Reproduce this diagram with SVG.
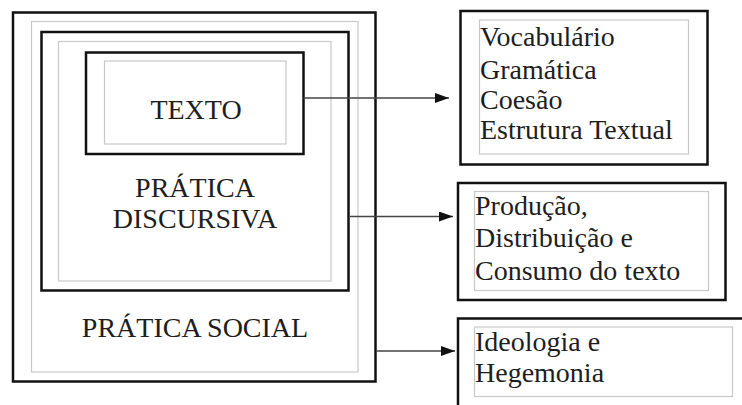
<svg xmlns="http://www.w3.org/2000/svg" width="742" height="405" viewBox="0 0 742 405">
<defs>
<style>
.thick{fill:none;stroke:#111;stroke-width:2.5}
.thin{fill:none;stroke:#c8c8c8;stroke-width:1.2}
.conn{fill:none;stroke:#444;stroke-width:1.6}
text{font-family:'Liberation Serif','DejaVu Serif',serif;font-size:28px;fill:#1e1e1e}
.c{text-anchor:middle}
</style>
<marker id="ah" viewBox="0 0 14 10" refX="14" refY="5" markerWidth="14" markerHeight="10" markerUnits="userSpaceOnUse" orient="auto">
<path d="M0,0 L14,5 L0,10 Z" fill="#111"/>
</marker>
</defs>
<rect width="742" height="405" fill="#fff"/>
<g id="pratica-social">
<rect class="thick" x="13" y="12.5" width="362.5" height="369"/>
<rect class="thin" x="31.5" y="21.5" width="326.5" height="350.5"/>
<text class="c" x="195" y="336.5">PRÁTICA SOCIAL</text>
</g>
<g id="pratica-discursiva">
<rect class="thick" x="41.5" y="32" width="307" height="258.5"/>
<rect class="thin" x="58.5" y="41.5" width="272.5" height="239.5"/>
<text class="c" x="195" y="197">PRÁTICA</text>
<text class="c" x="195" y="227.5">DISCURSIVA</text>
</g>
<g id="texto">
<rect class="thick" x="86" y="52.5" width="217.5" height="101.5"/>
<rect class="thin" x="104.5" y="61" width="181.5" height="83"/>
<text class="c" x="196" y="118.5">TEXTO</text>
</g>
<g id="box-texto">
<rect class="thick" x="460.5" y="11" width="247" height="153.5"/>
<rect class="thin" x="479.5" y="20" width="209" height="134"/>
<text x="480" y="46">Vocabulário</text>
<text x="480" y="78.5">Gramática</text>
<text x="480" y="109">Coesão</text>
<text x="480" y="138.5">Estrutura Textual</text>
</g>
<g id="box-discursiva">
<rect class="thick" x="458" y="183" width="267.5" height="117"/>
<rect class="thin" x="474.5" y="191.5" width="234" height="99"/>
<text x="475" y="215">Produção,</text>
<text x="475" y="247">Distribuição e</text>
<text x="475" y="279.5">Consumo do texto</text>
</g>
<g id="box-social">
<path class="thick" d="M458,405 V318.5 H742"/>
<rect class="thin" x="474.5" y="327" width="258" height="69.5"/>
<text x="475" y="350.5">Ideologia e</text>
<text x="475" y="382">Hegemonia</text>
</g>
<g id="connectors">
<line class="conn" x1="303.5" y1="98" x2="449" y2="98" marker-end="url(#ah)"/>
<line class="conn" x1="350" y1="216.5" x2="453" y2="216.5" marker-end="url(#ah)"/>
<line class="conn" x1="376" y1="351" x2="455" y2="351" marker-end="url(#ah)"/>
</g>
</svg>
